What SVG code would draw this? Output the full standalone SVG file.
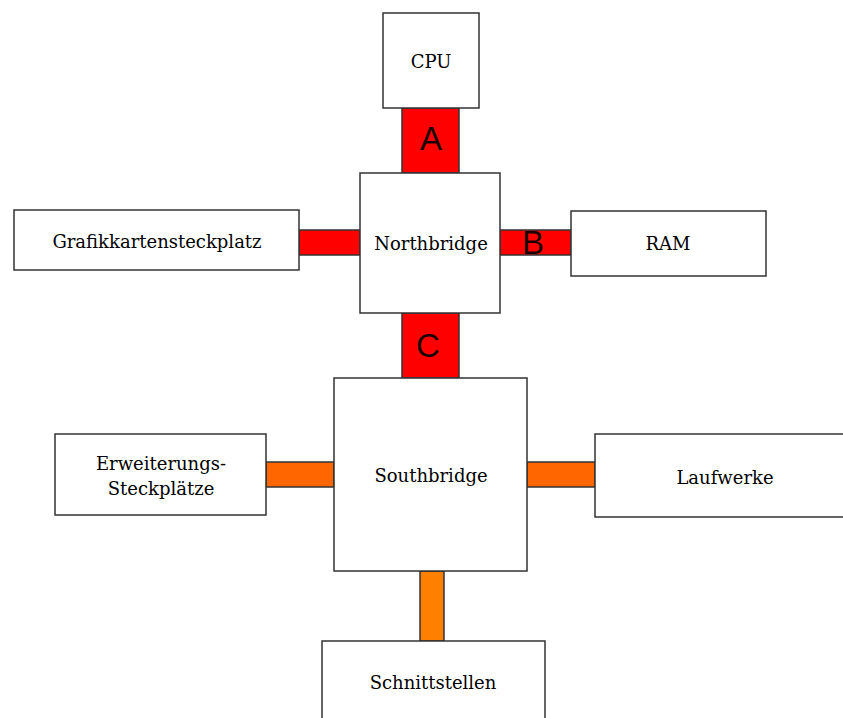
<svg xmlns="http://www.w3.org/2000/svg" width="843" height="718" viewBox="0 0 843 718">
<style>
.box{fill:#fff;stroke:#333;stroke-width:1.5}
.red{fill:#ff0000;stroke:#333;stroke-width:1.5}
.or1{fill:#ff6600;stroke:#333;stroke-width:1.5}
.or2{fill:#ff8000;stroke:#333;stroke-width:1.5}
.t{font-family:"DejaVu Serif","Liberation Serif",serif;font-size:18px;fill:#000;text-anchor:middle}
.l{font-family:"Liberation Sans",Arial,sans-serif;font-size:33px;fill:#1a0000;text-anchor:middle}
</style>
<rect width="843" height="718" fill="#fff"/>
<g id="connectors">
<g id="busA"><rect class="red" x="402" y="108" width="57" height="65"/><text class="l" x="431" y="150">A</text></g>
<g id="busB"><rect class="red" x="500" y="230" width="71" height="25"/><text class="l" x="533" y="254">B</text></g>
<g id="busGfx"><rect class="red" x="299" y="230" width="61" height="25"/></g>
<g id="busC"><rect class="red" x="402" y="313" width="57" height="65"/><text class="l" x="428" y="357">C</text></g>
<g id="busErw"><rect class="or1" x="266" y="462" width="68" height="25"/></g>
<g id="busLauf"><rect class="or1" x="527" y="462" width="68" height="25"/></g>
<g id="busSchn"><rect class="or2" x="420" y="571" width="24" height="70"/></g>
</g>
<g id="cpu"><rect class="box" x="383" y="13" width="96" height="95"/><text class="t" x="431" y="68">CPU</text></g>
<g id="northbridge"><rect class="box" x="360" y="173" width="140" height="140"/><text class="t" x="431" y="250">Northbridge</text></g>
<g id="grafik"><rect class="box" x="14" y="210" width="285" height="60"/><text class="t" x="157" y="248">Grafikkartensteckplatz</text></g>
<g id="ram"><rect class="box" x="571" y="211" width="195" height="65"/><text class="t" x="668" y="250">RAM</text></g>
<g id="southbridge"><rect class="box" x="334" y="378" width="193" height="193"/><text class="t" x="431" y="482">Southbridge</text></g>
<g id="erweiterung"><rect class="box" x="55" y="434" width="211" height="81"/><text class="t" x="161" y="470">Erweiterungs-</text><text class="t" x="161" y="495">Steckplätze</text></g>
<g id="laufwerke"><rect class="box" x="595" y="434" width="262" height="83"/><text class="t" x="725" y="484">Laufwerke</text></g>
<g id="schnittstellen"><rect class="box" x="322" y="641" width="223" height="90"/><text class="t" x="433" y="689">Schnittstellen</text></g>
</svg>
